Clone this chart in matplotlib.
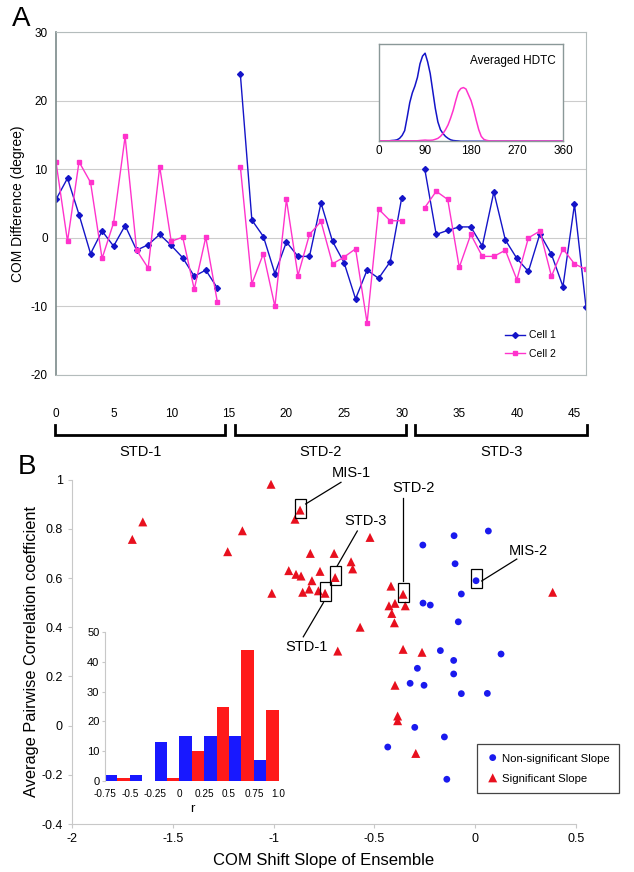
import numpy as np
import matplotlib.pyplot as plt
from matplotlib.patches import Rectangle
from matplotlib.transforms import blended_transform_factory

plt.rcParams['font.family'] = ['Liberation Sans', 'DejaVu Sans']
plt.rcParams['axes.unicode_minus'] = False

# ---------------- Panel A data ----------------
seg_x = [list(range(0, 15)), list(range(16, 31)), list(range(32, 47))]
cell1 = [
    [5.6, 8.7, 3.4, -2.3, 1.0, -1.2, 1.8, -1.8, -1.0, 0.5, -1.1, -2.9, -5.6, -4.7, -7.3],
    [23.9, 2.6, 0.2, -5.2, -0.6, -2.7, -2.7, 5.1, -0.5, -3.6, -8.9, -4.7, -5.9, -3.5, 5.8],
    [10.1, 0.5, 1.1, 1.6, 1.6, -1.2, 6.7, -0.3, -3.0, -4.9, 0.6, -2.4, -7.1, 4.9, -10.1],
]
cell2 = [
    [11.1, -0.5, 11.1, 8.1, -3.0, 2.2, 14.8, -1.8, -4.4, 10.4, -0.5, 0.1, -7.5, 0.1, -9.3],
    [10.4, -6.7, -2.3, -10.0, 5.6, -5.5, 0.5, 2.4, -3.8, -2.8, -1.6, -12.4, 4.2, 2.5, 2.5],
    [4.4, 6.8, 5.6, -4.3, 0.5, -2.7, -2.7, -1.8, -6.1, 0.0, 1.0, -5.6, -1.6, -3.8, -4.6],
]
std_names = ['STD-1', 'STD-2', 'STD-3']
bracket_span = [(-0.1, 14.7), (15.5, 30.4), (31.2, 46.1)]

# averaged HDTC (5 degree bins)
hd_angle = np.arange(0, 361, 5)
hdtc1 = [0, 0, 0, 0.003, 0.005, 0.008, 0.01, 0.015, 0.03, 0.06, 0.11, 0.25, 0.40, 0.50,
         0.57, 0.66, 0.80, 0.88, 0.91, 0.82, 0.70, 0.52, 0.34, 0.20, 0.12, 0.08, 0.05,
         0.03, 0.015, 0.008, 0.005, 0.003] + [0] * 41
hdtc2 = [0.005] * 16 + [0.008, 0.01, 0.012, 0.01, 0.01, 0.012, 0.02, 0.03, 0.05, 0.08,
                        0.12, 0.17, 0.24, 0.32, 0.42, 0.51, 0.545, 0.555, 0.54, 0.48,
                        0.42, 0.33, 0.22, 0.12, 0.05, 0.02, 0.01, 0.005] + [0.003] * 29

# ---------------- Panel B data ----------------
sig_x = [-1.701, -1.649, -1.228, -1.155, -1.013, -1.009, -0.894, -0.869, -0.818, -0.925,
         -0.889, -0.864, -0.810, -0.856, -0.824, -0.778, -0.770, -0.700, -0.695, -0.745,
         -0.616, -0.608, -0.522, -0.571, -0.418, -0.358, -0.428, -0.398, -0.347, -0.414,
         -0.401, 0.384, -0.682, -0.358, -0.264, -0.398, -0.385, -0.385, -0.295]
sig_y = [0.757, 0.828, 0.707, 0.792, 0.981, 0.538, 0.839, 0.876, 0.700, 0.630,
         0.615, 0.608, 0.589, 0.542, 0.555, 0.548, 0.627, 0.700, 0.602, 0.538,
         0.666, 0.637, 0.765, 0.400, 0.567, 0.534, 0.487, 0.497, 0.487, 0.456,
         0.418, 0.542, 0.303, 0.310, 0.298, 0.164, 0.039, 0.020, -0.113]
ns_x = [-0.260, -0.105, 0.065, -0.100, 0.004, -0.069, -0.259, -0.223, -0.084, -0.173, 0.128,
        -0.107, -0.287, -0.107, -0.323, -0.254, -0.069, 0.060, -0.300, -0.153, -0.434, -0.141]
ns_y = [0.734, 0.772, 0.791, 0.658, 0.589, 0.535, 0.498, 0.490, 0.422, 0.305, 0.291,
        0.265, 0.233, 0.210, 0.172, 0.164, 0.130, 0.131, -0.007, -0.046, -0.087, -0.218]

# labelled ensembles: name, point, text position, leader line
callouts = [
    ('MIS-1', (-0.869, 0.876), (-0.613, 1.028), [(-0.841, 0.901), (-0.666, 0.989)]),
    ('STD-3', (-0.695, 0.602), (-0.543, 0.832), [(-0.684, 0.650), (-0.585, 0.791)]),
    ('STD-2', (-0.358, 0.534), (-0.307, 0.964), [(-0.360, 0.589), (-0.360, 0.926)]),
    ('MIS-2', (0.004, 0.589), (0.265, 0.711), [(0.032, 0.588), (0.206, 0.677)]),
    ('STD-1', (-0.745, 0.538), (-0.838, 0.321), [(-0.753, 0.500), (-0.853, 0.361)]),
]

# histogram of r
r_edges = [-0.75, -0.5, -0.25, 0, 0.25, 0.5, 0.75, 1.0]
r_labels = ['-0.75', '-0.5', '-0.25', '0', '0.25', '0.5', '0.75', '1.0']
hist_ns = [2, 2, 13, 15, 15, 15, 7]
hist_sig = [1, 0, 1, 10, 25, 44, 24]

blue_a = '#1414c8'
pink_a = '#ff33cc'
blue_b = '#1a1aee'
red_b = '#e8101e'

fig = plt.figure(figsize=(6.34, 8.72), dpi=100)

# ================= Panel A =================
ax = fig.add_axes([0.0883, 0.570, 0.836, 0.393])
for i in range(3):
    ax.plot(seg_x[i], cell1[i], color=blue_a, lw=1.0, marker='D', ms=3,
            label='Cell 1' if i == 0 else None)
    ax.plot(seg_x[i], cell2[i], color=pink_a, lw=1.0, marker='s', ms=3.5,
            label='Cell 2' if i == 0 else None)
ax.set_xlim(0, 46)
ax.set_ylim(-20, 30)
ax.set_yticks(range(-20, 31, 10))
ax.set_xticks(range(0, 46, 5))
ax.yaxis.grid(True, color='#cccccc', lw=0.8)
ax.set_axisbelow(True)
for s in ['top', 'right', 'bottom']:
    ax.spines[s].set_color('#b4bcbc')
ax.spines['left'].set_color('#7c8a8a')
ax.spines['left'].set_linewidth(1.2)
ax.tick_params(length=0, labelsize=8.5, pad=6)
ax.tick_params(axis='x', pad=24)
ax.set_ylabel('COM Difference (degree)', fontsize=10, labelpad=4)
ax.legend(loc='lower right', bbox_to_anchor=(0.96, 0.02), frameon=False,
          fontsize=7.5, handlelength=2.0, handletextpad=0.3, labelspacing=0.8)

# brackets under the x axis
tr = blended_transform_factory(ax.transData, fig.transFigure)
for (x0, x1), name in zip(bracket_span, std_names):
    ax.plot([x0, x0, x1, x1], [0.5126, 0.501, 0.501, 0.5126], color='black',
            lw=2, transform=tr, clip_on=False, solid_joinstyle='miter')
    ax.text((x0 + x1) / 2, 0.482, name, transform=tr, ha='center', va='center',
            fontsize=10.5)

fig.text(0.019, 0.978, 'A', fontsize=20, ha='left', va='center')

# inset HDTC
axi = fig.add_axes([0.598, 0.838, 0.290, 0.111])
axi.plot(hd_angle, hdtc1, color=blue_a, lw=1.1)
axi.plot(hd_angle, hdtc2, color=pink_a, lw=1.1)
axi.set_xlim(0, 360)
axi.set_ylim(0, 1.0)
axi.set_xticks([0, 90, 180, 270, 360])
axi.set_yticks([])
axi.tick_params(length=0, labelsize=8.5, pad=3)
for s in axi.spines.values():
    s.set_color('#8a9898')
    s.set_linewidth(1.0)
axi.text(0.96, 0.83, 'Averaged HDTC', transform=axi.transAxes, ha='right',
         va='center', fontsize=8.5)

# ================= Panel B =================
bx = fig.add_axes([0.1136, 0.055, 0.795, 0.395])
bx.scatter(ns_x, ns_y, marker='o', s=24, color=blue_b, edgecolors='none',
           label='Non-significant Slope', zorder=3)
bx.scatter(sig_x, sig_y, marker='^', s=42, color=red_b, edgecolors='none',
           label='Significant Slope', zorder=3)
bx.set_xlim(-2, 0.5)
bx.set_ylim(-0.4, 1.0)
bx.set_xticks([-2, -1.5, -1, -0.5, 0, 0.5])
bx.set_xticklabels(['-2', '-1.5', '-1', '-0.5', '0', '0.5'])
bx.set_yticks([-0.4, -0.2, 0, 0.2, 0.4, 0.6, 0.8, 1.0])
bx.set_yticklabels(['-0.4', '-0.2', '0', '0.2', '0.4', '0.6', '0.8', '1'])
for s in ['top', 'right']:
    bx.spines[s].set_visible(False)
for s in ['left', 'bottom']:
    bx.spines[s].set_color('#c8c8c8')
bx.tick_params(color='#c8c8c8', length=3, labelsize=9)
bx.set_xlabel('COM Shift Slope of Ensemble', fontsize=12, labelpad=6)
bx.set_ylabel('Average Pairwise Correlation coefficient', fontsize=11.8, labelpad=2)

bw, bh = 0.055, 0.077
for name, (px, py), (tx, ty), line in callouts:
    bx.add_patch(Rectangle((px - bw / 2, py - bh / 2 + 0.008), bw, bh, fill=False,
                           edgecolor='black', lw=0.9, zorder=4))
    bx.plot([line[0][0], line[1][0]], [line[0][1], line[1][1]], color='black',
            lw=0.9, zorder=4, clip_on=False)
    bx.text(tx, ty, name, ha='center', va='center', fontsize=10.5, clip_on=False)

leg = bx.legend(loc='upper left', bbox_to_anchor=(0.803, 0.231), fontsize=8.2,
                fancybox=False, framealpha=1, edgecolor='#444444',
                handletextpad=0.2, borderpad=0.8, labelspacing=0.9,
                handlelength=1.2, scatteryoffsets=[0.5], borderaxespad=0)
leg.get_frame().set_linewidth(0.9)

fig.text(0.028, 0.465, 'B', fontsize=20, ha='left', va='center')

# inset histogram of r
hx = fig.add_axes([0.1656, 0.1047, 0.274, 0.170])
lefts = np.array(r_edges[:-1])
half = 0.125
hx.bar(lefts, hist_ns, width=half, align='edge', color='#1818ff', zorder=2)
hx.bar(lefts + half, hist_sig, width=half, align='edge', color='#ff1a1a', zorder=2)
hx.set_xlim(-0.75, 1.0)
hx.set_ylim(0, 50)
hx.set_yticks(range(0, 51, 10))
hx.set_xticks(r_edges)
hx.set_xticklabels(r_labels)
for s in ['top', 'right', 'bottom']:
    hx.spines[s].set_visible(False)
hx.spines['left'].set_color('#c8c8c8')
hx.tick_params(axis='y', color='#c8c8c8', length=2, labelsize=8, pad=2)
hx.tick_params(axis='x', length=0, labelsize=7.2, pad=6)
hx.set_xlabel('r', fontsize=9.5, labelpad=3)

fig.savefig('out.png', dpi=100)
